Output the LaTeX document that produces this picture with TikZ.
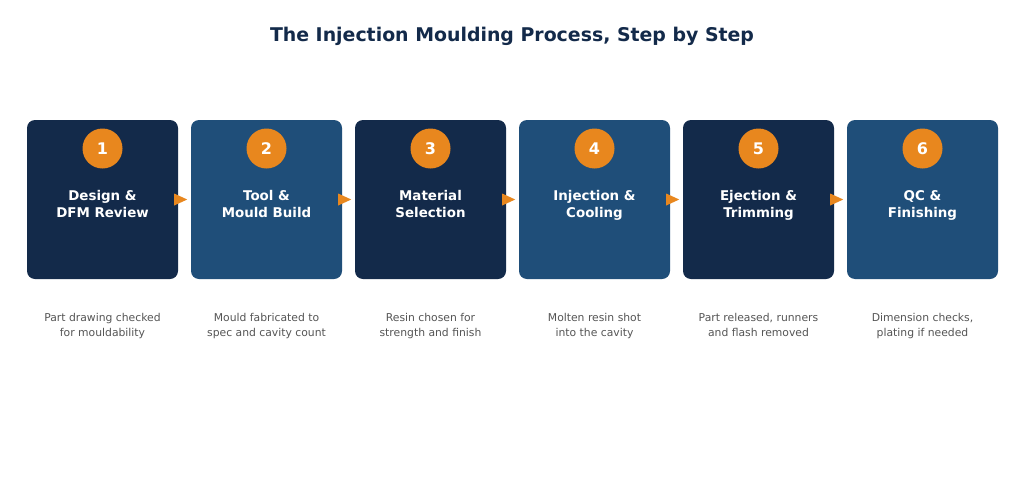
\documentclass[tikz,border=0pt]{standalone}
\usepackage{fontspec}
\setmainfont{DejaVu Sans}
\usetikzlibrary{shapes.geometric,positioning,calc}
\definecolor{navy}{HTML}{132A4A}
\definecolor{steel}{HTML}{1F4E79}
\definecolor{accent}{HTML}{E8871E}
\definecolor{desc}{HTML}{555555}
\begin{document}
\begin{tikzpicture}[x=1pt,y=-1pt,
  stepbox/.style={rounded corners=8pt,minimum width=151pt,minimum height=159pt,inner sep=0pt},
  numdot/.style={circle,fill=accent,minimum size=40pt,inner sep=0pt,text=white,font=\bfseries\fontsize{16}{18}\selectfont},
  steplabel/.style={text=white,align=center,inner sep=0pt,text height=10pt,text depth=3pt,font=\bfseries\fontsize{13.4}{17}\selectfont},
  desctext/.style={text=desc,align=center,inner sep=0pt,text height=8pt,text depth=3pt,font=\fontsize{10.8}{15}\selectfont}]
\useasboundingbox (0,0) rectangle (1024,479);
\fill[white] (0,0) rectangle (1024,479);
\node[text=navy,inner sep=0pt,text height=14pt,text depth=4pt,font=\bfseries\fontsize{18.9}{22}\selectfont] (title) at (512,36) {The Injection Moulding Process, Step by Step};
\foreach \i/\c/\l/\d in {
  1/navy/{Design \&\\DFM Review}/{Part drawing checked\\for mouldability},
  2/steel/{Tool \&\\Mould Build}/{Mould fabricated to\\spec and cavity count},
  3/navy/{Material\\Selection}/{Resin chosen for\\strength and finish},
  4/steel/{Injection \&\\Cooling}/{Molten resin shot\\into the cavity},
  5/navy/{Ejection \&\\Trimming}/{Part released, runners\\and flash removed},
  6/steel/{QC \&\\Finishing}/{Dimension checks,\\plating if needed}} {
  \pgfmathsetmacro{\cx}{102.5+164*(\i-1)}
  \node[stepbox,fill=\c] (b\i) at (\cx,199.5) {};
  \node[numdot] (n\i) at (\cx,148.5) {\i};
  \node[steplabel] (t\i) at (\cx,214) {\l};
  \node[desctext] (d\i) at (\cx,334) {\d};
}
\foreach \i in {1,...,5} {
  \fill[accent] ($(b\i.east)+(-4,-6)$) -- ++(13,6) -- ++(-13,6) -- cycle;
}
\end{tikzpicture}
\end{document}
